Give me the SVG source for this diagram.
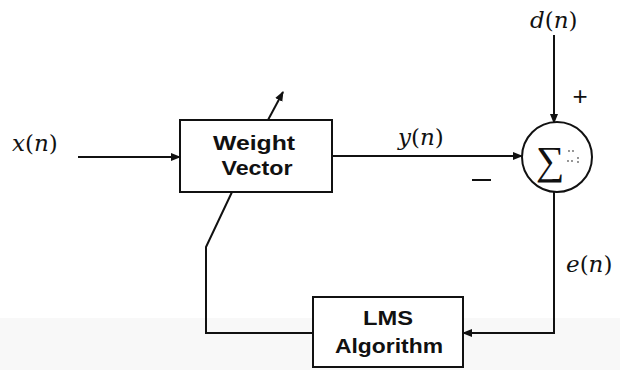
<svg xmlns="http://www.w3.org/2000/svg" width="620" height="370" viewBox="0 0 620 370">
<defs>
<marker id="ah" viewBox="0 0 10 10" refX="9" refY="5" markerWidth="10" markerHeight="10" markerUnits="userSpaceOnUse" orient="auto">
<path d="M0,1 L10,5 L0,9 Z" fill="#111"/>
</marker>
<style>
.box{fill:#fff;stroke:#111;stroke-width:2}
.ln{fill:none;stroke:#111;stroke-width:2}
.lbl{font-family:"Liberation Sans",Arial,sans-serif;font-weight:bold;font-size:20px;fill:#111}
.m{font-family:"DejaVu Serif","Liberation Serif",serif;font-size:23px;fill:#111}
.it{font-style:italic}
.dot{fill:#666}
</style>
</defs>
<rect x="0" y="0" width="620" height="370" fill="#fff"/>
<rect x="0" y="318" width="620" height="52" fill="#f8f8f8"/>
<g id="connectors">
<line class="ln" x1="78" y1="157" x2="180" y2="157" marker-end="url(#ah)"/>
<line class="ln" x1="332" y1="156" x2="522" y2="156" marker-end="url(#ah)"/>
<line class="ln" x1="554" y1="35" x2="554" y2="123" marker-end="url(#ah)"/>
<line class="ln" x1="268" y1="120" x2="283" y2="92" marker-end="url(#ah)"/>
<polyline class="ln" points="232,192 206,247 206,333 313,333"/>
<polyline class="ln" points="554,191 554,333 463,333" marker-end="url(#ah)"/>
</g>
<g id="weight-vector">
<rect class="box" x="180" y="120" width="152" height="72"/>
<text class="lbl" x="254" y="150" text-anchor="middle" textLength="82" lengthAdjust="spacingAndGlyphs">Weight</text>
<text class="lbl" x="257" y="175" text-anchor="middle" textLength="71" lengthAdjust="spacingAndGlyphs">Vector</text>
</g>
<g id="sum">
<circle cx="557" cy="157" r="35" fill="#fff" stroke="#111" stroke-width="2"/>
<text x="550" y="174" text-anchor="middle" font-family="'Liberation Serif',serif" font-size="40" fill="#111">∑</text>
<circle class="dot" cx="569" cy="151" r="0.9"/>
<circle class="dot" cx="573" cy="151" r="0.9"/>
<circle class="dot" cx="568" cy="161" r="0.9"/>
<circle class="dot" cx="572" cy="161" r="0.9"/>
<circle class="dot" cx="578" cy="158" r="0.9"/>
<circle class="dot" cx="578" cy="162" r="0.9"/>
</g>
<g id="lms">
<rect class="box" x="313" y="297" width="150" height="70"/>
<text class="lbl" x="388" y="325" text-anchor="middle" textLength="50" lengthAdjust="spacingAndGlyphs">LMS</text>
<text class="lbl" x="389" y="353" text-anchor="middle" textLength="108" lengthAdjust="spacingAndGlyphs">Algorithm</text>
</g>
<g id="labels">
<text class="m" x="12" y="151"><tspan class="it">x</tspan>(<tspan class="it">n</tspan>)</text>
<text class="m" x="398" y="145"><tspan class="it">y</tspan>(<tspan class="it">n</tspan>)</text>
<text class="m" x="530" y="28"><tspan class="it">d</tspan>(<tspan class="it">n</tspan>)</text>
<text class="m" x="566" y="272"><tspan class="it">e</tspan>(<tspan class="it">n</tspan>)</text>
<text x="580" y="105" text-anchor="middle" font-family="'Liberation Sans',sans-serif" font-size="26" fill="#111">+</text>
<line x1="472" y1="180" x2="491" y2="180" stroke="#111" stroke-width="2"/>
</g>
</svg>
